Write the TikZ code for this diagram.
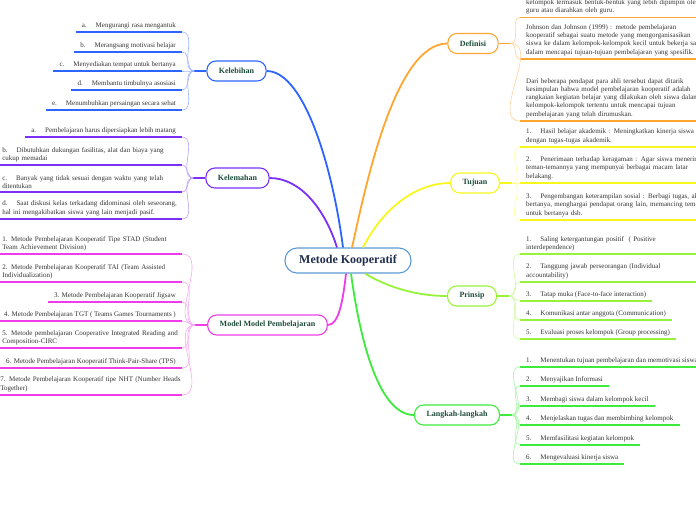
\documentclass[tikz,border=0pt]{standalone}
\usepackage{fontspec}
\setmainfont{Liberation Serif}
\usetikzlibrary{positioning}
\definecolor{rootline}{HTML}{5B9BD5}
\definecolor{roottext}{HTML}{1F2D4D}
\definecolor{labeltext}{HTML}{1E4D3B}
\definecolor{leaftext}{HTML}{333333}
\definecolor{kbblue}{HTML}{2E64FE}
\definecolor{kbbluelite}{HTML}{9DB5FF}
\definecolor{kmpurple}{HTML}{7B2FF7}
\definecolor{kmpurplelite}{HTML}{BFA0FA}
\definecolor{mdmagenta}{HTML}{F03CE8}
\definecolor{mdmagentalite}{HTML}{F7A8F2}
\definecolor{dforange}{HTML}{FFA630}
\definecolor{dforangelite}{HTML}{FFD199}
\definecolor{tjyellow}{HTML}{F7F71E}
\definecolor{tjyellowlite}{HTML}{FFFF99}
\definecolor{prlime}{HTML}{99F23A}
\definecolor{prlimelite}{HTML}{CFF9A0}
\definecolor{lkgreen}{HTML}{3CEB3C}
\definecolor{lkgreenlite}{HTML}{A6F5A6}
\newcommand{\itemno}[1]{#1\hspace{9pt}}

\begin{document}
\begin{tikzpicture}[x=1pt,y=-1pt,
    root/.style={draw=rootline,line width=1.1pt,rounded corners=12pt,fill=white,minimum width=126pt,minimum height=25pt,font=\bfseries\fontsize{12}{14}\selectfont,text=roottext},
    branch/.style={draw=#1,line width=1.1pt,rounded corners=9pt,fill=white,minimum height=20pt,inner xsep=12pt,font=\bfseries\fontsize{8}{10}\selectfont,text=labeltext},
    leaf/.style={inner xsep=6pt,inner ysep=3pt,align=left,font=\fontsize{7}{8.3}\selectfont,text=leaftext},
    leafL/.style={leaf,anchor=south east},
    leafR/.style={leaf,anchor=south west},
    wide/.style={text width=#1},
    edge/.style={inner xsep=2.5pt,text width=177pt},
    trunk/.style={line width=1.8pt,draw=#1},
    twig/.style={line width=0.6pt,draw=#1},
    under/.style={line width=1.6pt,draw=#1}]
  \useasboundingbox (0,0) rectangle (696,520);
  \clip (0,0) rectangle (696,520);
  \node[root] (root) at (348,260.5) {Metode Kooperatif};
  \node[branch=dforange] (df) at (473,43.5) {Definisi};
  \node[branch=kbblue] (kb) at (236.5,71) {Kelebihan};
  \node[branch=kmpurple] (km) at (237.5,178) {Kelemahan};
  \node[branch=tjyellow] (tj) at (475,183) {Tujuan};
  \node[branch=prlime] (pr) at (472,296) {Prinsip};
  \node[branch=mdmagenta] (md) at (267.5,325) {Model Model Pembelajaran};
  \node[branch=lkgreen] (lk) at (457,415) {Langkah-langkah};
  \draw[trunk=kmpurple] ([xshift=-11pt]root.north) .. controls +(-12,-38) and +(31,0) .. (km.east);
  \draw[trunk=kbblue] ([xshift=-5pt]root.north) .. controls +(-10,-78) and +(38,0) .. (kb.east);
  \draw[trunk=dforange] ([xshift=4pt]root.north) .. controls +(13,-58) and +(-53,0) .. (df.west);
  \draw[trunk=tjyellow] ([xshift=15pt]root.north) .. controls +(22,-43) and +(-31,0) .. (tj.west);
  \draw[trunk=mdmagenta] ([xshift=-2pt]root.south) .. controls +(-3,27) and +(11,0) .. (md.east);
  \draw[trunk=lkgreen] ([xshift=3pt]root.south) .. controls +(9,67) and +(-35,0) .. (lk.west);
  \draw[trunk=prlime] ([xshift=17pt]root.south) .. controls +(25,15) and +(-28,0) .. (pr.west);
  \coordinate (kbhub) at ([xshift=-12pt]kb.west);
  \coordinate (kmhub) at ([xshift=-12pt]km.west);
  \coordinate (mdhub) at ([xshift=-12pt]md.west);
  \coordinate (dfhub) at ([xshift=12pt]df.east);
  \coordinate (tjhub) at ([xshift=12pt]tj.east);
  \coordinate (prhub) at ([xshift=12pt]pr.east);
  \coordinate (lkhub) at ([xshift=12pt]lk.east);
  \draw[trunk=kbblue] (kb.west) -- (kbhub);
  \draw[trunk=kmpurple] (km.west) -- (kmhub);
  \draw[trunk=mdmagenta] (md.west) -- (mdhub);
  \draw[trunk=dforange] (df.east) -- (dfhub);
  \draw[trunk=tjyellow] (tj.east) -- (tjhub);
  \draw[trunk=prlime] (pr.east) -- (prhub);
  \draw[trunk=lkgreen] (lk.east) -- (lkhub);
  \node[leafL] (kb1) at (182,32) {\itemno{a.}Mengurangi rasa mengantuk};
  \node[leafL] (kb2) at (182,52) {\itemno{b.}Merangsang motivasi belajar};
  \node[leafL] (kb3) at (182,71) {\itemno{c.}Menyediakan tempat untuk bertanya};
  \node[leafL] (kb4) at (182,90) {\itemno{d.}Membantu timbulnya asosiasi};
  \node[leafL] (kb5) at (182,110) {\itemno{e.}Menumbuhkan persaingan secara sehat};
  \node[leafL] (km1) at (182,137) {\itemno{a.}Pembelajaran harus dipersiapkan lebih matang};
  \node[leafL,edge] (km2) at (182,165) {\itemno{b.}Dibutuhkan dukungan fasilitas, alat dan biaya yang\\cukup memadai};
  \node[leafL,edge] (km3) at (182,192) {\itemno{c.}Banyak yang tidak sesuai dengan waktu yang telah\\ditentukan};
  \node[leafL,edge] (km4) at (182,219) {\itemno{d.}Saat diskusi kelas terkadang didominasi oleh seseorang,\\hal ini mengakibatkan siswa yang lain menjadi pasif.};
  \node[leafL,edge] (md1) at (182,254) {1. Metode Pembelajaran Kooperatif Tipe STAD (Student\\Team Achievement Division)};
  \node[leafL,edge] (md2) at (182,282) {2. Metode Pembelajaran Kooperatif TAI (Team Assisted\\Individualization)};
  \node[leafL] (md3) at (182,302) {3. Metode Pembelajaran Kooperatif Jigsaw};
  \node[leafL] (md4) at (182,321) {4. Metode Pembelajaran TGT ( Teams Games Tournaments )};
  \node[leafL,edge] (md5) at (182,348) {5. Metode pembelajaran Cooperative Integrated Reading and\\Composition-CIRC};
  \node[leafL] (md6) at (182,368) {6. Metode Pembelajaran Kooperatif Think-Pair-Share (TPS)};
  \node[leafL,edge,inner xsep=0.5pt,text width=181pt] (md7) at (182,395) {7. Metode Pembelajaran Kooperatif tipe NHT (Number Heads\\Together)};
  \node[leafR,wide=180pt] (df1) at (520,17.5) {kelompok termasuk bentuk-bentuk yang lebih dipimpin oleh\\guru atau diarahkan oleh guru.};
  \node[leafR,wide=180pt] (df2) at (520,59) {Johnson dan Johnson (1999) : metode pembelajaran\\kooperatif sebagai suatu metode yang mengorganisasikan\\siswa ke dalam kelompok-kelompok kecil untuk bekerja sama\\dalam mencapai tujuan-tujuan pembelajaran yang spesifik.};
  \node[leafR,wide=180pt] (df3) at (520,121) {Dari beberapa pendapat para ahli tersebut dapat ditarik\\kesimpulan bahwa model pembelajaran kooperatif adalah\\rangkaian kegiatan belajar yang dilakukan oleh siswa dalam\\kelompok-kelompok tertentu untuk mencapai tujuan\\pembelajaran yang telah dirumuskan.};
  \node[leafR,wide=180pt] (tj1) at (520,147) {\itemno{1.}Hasil belajar akademik : Meningkatkan kinerja siswa\\dengan tugas-tugas akademik.};
  \node[leafR,wide=180pt] (tj2) at (520,183) {\itemno{2.}Penerimaan terhadap keragaman : Agar siswa menerima\\teman-temannya yang mempunyai berbagai macam latar\\belakang.};
  \node[leafR,wide=180pt] (tj3) at (520,220) {\itemno{3.}Pengembangan keterampilan sosial : Berbagi tugas, aktif\\bertanya, menghargai pendapat orang lain, memancing teman\\untuk bertanya dsb.};
  \node[leafR,wide=180pt] (pr1) at (520,254) {\itemno{1.}Saling ketergantungan positif \ ( Positive\\interdependence)};
  \node[leafR,wide=180pt] (pr2) at (520,282) {\itemno{2.}Tanggung jawab perseorangan (Individual\\accountability)};
  \node[leafR] (pr3) at (520,301) {\itemno{3.}Tatap muka (Face-to-face interaction)};
  \node[leafR] (pr4) at (520,320) {\itemno{4.}Komunikasi antar anggota (Communication)};
  \node[leafR] (pr5) at (520,339) {\itemno{5.}Evaluasi proses kelompok (Group processing)};
  \node[leafR] (lk1) at (520,367) {\itemno{1.}Menentukan tujuan pembelajaran dan memotivasi siswa};
  \node[leafR] (lk2) at (520,386) {\itemno{2.}Menyajikan Informasi};
  \node[leafR] (lk3) at (520,406) {\itemno{3.}Membagi siswa dalam kelompok kecil};
  \node[leafR] (lk4) at (520,425) {\itemno{4.}Menjelaskan tugas dan membimbing kelompok};
  \node[leafR] (lk5) at (520,445) {\itemno{5.}Memfasilitasi kegiatan kelompok};
  \node[leafR] (lk6) at (520,464) {\itemno{6.}Mengevaluasi kinerja siswa};
  \foreach \n in {kb1,kb2,kb3,kb4,kb5} {
    \draw[twig=kbbluelite] (kbhub) to[out=180,in=0] (\n.south east);
    \draw[under=kbblue] (\n.south west) -- (\n.south east);
  }
  \foreach \n in {km1,km2,km3,km4} {
    \draw[twig=kmpurplelite] (kmhub) to[out=180,in=0] (\n.south east);
    \draw[under=kmpurple] (\n.south west) -- (\n.south east);
  }
  \foreach \n in {md1,md2,md3,md4,md5,md6,md7} {
    \draw[twig=mdmagentalite] (mdhub) to[out=180,in=0] (\n.south east);
    \draw[under=mdmagenta] (\n.south west) -- (\n.south east);
  }
  \foreach \n in {df1,df2,df3} {
    \draw[twig=dforangelite] (dfhub) to[out=0,in=180] (\n.south west);
    \draw[under=dforange] (\n.south west) -- (\n.south east);
  }
  \foreach \n in {tj1,tj2,tj3} {
    \draw[twig=tjyellowlite] (tjhub) to[out=0,in=180] (\n.south west);
    \draw[under=tjyellow] (\n.south west) -- (\n.south east);
  }
  \foreach \n in {pr1,pr2,pr3,pr4,pr5} {
    \draw[twig=prlimelite] (prhub) to[out=0,in=180] (\n.south west);
    \draw[under=prlime] (\n.south west) -- (\n.south east);
  }
  \foreach \n in {lk1,lk2,lk3,lk4,lk5,lk6} {
    \draw[twig=lkgreenlite] (lkhub) to[out=0,in=180] (\n.south west);
    \draw[under=lkgreen] (\n.south west) -- (\n.south east);
  }
\end{tikzpicture}
\end{document}
